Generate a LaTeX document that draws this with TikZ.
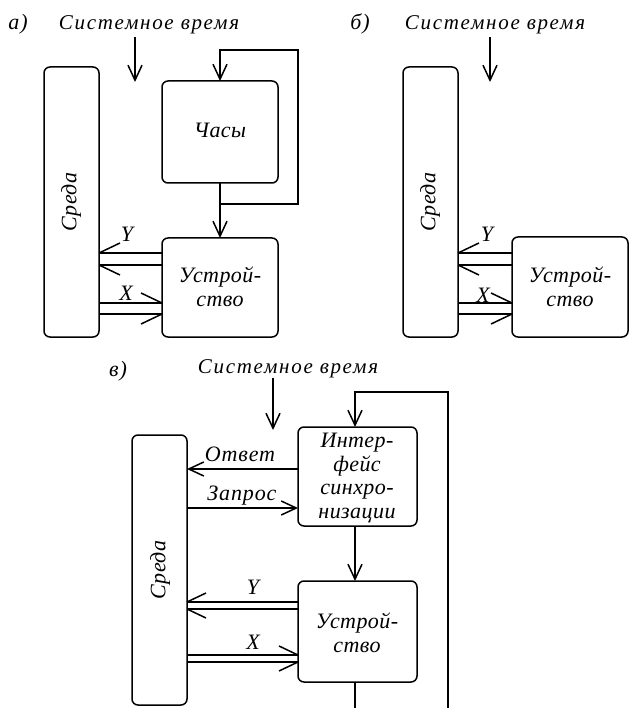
\documentclass[tikz,border=0pt]{standalone}
\usepackage{fontspec}
\setmainfont{Liberation Serif}
\usetikzlibrary{arrows.meta,calc}
\newfontfamily\titlefont[LetterSpace=8]{Liberation Serif}
\newfontfamily\boxfont[LetterSpace=2]{Liberation Serif}
\newfontfamily\lblfont[LetterSpace=4]{Liberation Serif}
\begin{document}
\begin{tikzpicture}[x=1pt,y=-1pt,
  every node/.style={inner sep=0pt, outer sep=0pt},
  blk/.style={draw, line width=1.5pt, rounded corners=6pt},
  ln/.style={line width=1.5pt},
  arr/.style={line width=1.5pt, -{Straight Barb[length=15pt,width=14pt,line width=1.5pt]}},
  ttl/.style={font=\titlefont\itshape\fontsize{21}{22}\selectfont, anchor=base},
  lbl/.style={font=\lblfont\itshape\fontsize{22}{24}\selectfont, anchor=base},
  bt/.style={font=\boxfont\itshape\fontsize{22}{23.5}\selectfont, align=center}]
\useasboundingbox (0,0) rectangle (630,708);
% ---------- a) ----------
\node[lbl] (la) at (18,30) {а)};
\node[ttl] (ta) at (149,30) {Системное время};
\coordinate (sa1) at (135,37);
\coordinate (sa2) at (135,82);
\draw[arr] (sa1) -- (sa2);
\draw[blk] (44,67) rectangle (99,337);
\node[bt, rotate=90] (srA) at (71,202) {Среда};
\draw[blk] (162,81) rectangle (278,183);
\node[bt] (clk) at (220,130) {Часы};
\draw[blk] (162,238) rectangle (278,337);
\node[bt] (devA) at (220,287) {Устрой-\\ство};
\coordinate (clkS) at (220,183);
\coordinate (clkN) at (220,81);
\coordinate (devAN) at (220,238);
\draw[arr] (clkS) -- (devAN);
\coordinate (brA) at (220,204);
\draw[arr] (brA) -- (298,204) -- (298,50) -- (220,50) -- (clkN);
% Y bus a
\coordinate (yA1) at (99,253); \coordinate (yA2) at (99,265);
\draw[ln] (162,253) -- (yA1) (162,265) -- (yA2);
\draw[ln] (yA1) -- ++(21,-10) (yA2) -- ++(21,10);
\node[lbl] (YA) at (127,241) {Y};
% X bus a
\coordinate (xA1) at (162,303); \coordinate (xA2) at (162,314);
\draw[ln] (99,303) -- (xA1) (99,314) -- (xA2);
\draw[ln] (xA1) -- ++(-21,-10) (xA2) -- ++(-21,10);
\node[lbl] (XA) at (126,300) {X};
% ---------- b) ----------
\node[lbl] (lb) at (360,30) {б)};
\node[ttl] (tb) at (495,30) {Системное время};
\draw[arr] (490,37) -- (490,82);
\draw[blk] (403,67) rectangle (458,337);
\node[bt, rotate=90] (srB) at (430,202) {Среда};
\draw[blk] (512,237) rectangle (628,337);
\node[bt] (devB) at (570,287) {Устрой-\\ство};
\coordinate (yB1) at (458,253); \coordinate (yB2) at (458,265);
\draw[ln] (512,253) -- (yB1) (512,265) -- (yB2);
\draw[ln] (yB1) -- ++(21,-10) (yB2) -- ++(21,10);
\node[lbl] (YB) at (487,241) {Y};
\coordinate (xB1) at (512,303); \coordinate (xB2) at (512,314);
\draw[ln] (458,303) -- (xB1) (458,314) -- (xB2);
\draw[ln] (xB1) -- ++(-21,-10) (xB2) -- ++(-21,10);
\node[lbl] (XB) at (483,302) {X};
% ---------- c) ----------
\node[lbl] (lc) at (118,376) {в)};
\node[ttl] (tc) at (288,373) {Системное время};
\draw[arr] (273,378) -- (273,430);
\draw[blk] (132,435) rectangle (187,705);
\node[bt, rotate=90] (srC) at (160,570) {Среда};
\draw[blk] (298,427) rectangle (417,526);
\node[bt] (ifc) at (357,478) {Интер-\\фейс\\синхро-\\низации};
\draw[blk] (298,581) rectangle (417,682);
\node[bt] (devC) at (357,633) {Устрой-\\ство};
\draw[arr] (355,526) -- (355,581);
\draw[arr] (355,682) -- (355,712) -- (448,712) -- (448,392) -- (355,392) -- (355,427);
\draw[arr] (298,469) -- (187,469);
\node[lbl] (otv) at (240,461) {Ответ};
\draw[arr] (187,508) -- (298,508);
\node[lbl] (zap) at (242,500) {Запрос};
\coordinate (yC1) at (187,602); \coordinate (yC2) at (187,609);
\draw[ln] (298,602) -- (yC1) (298,609) -- (yC2);
\draw[ln] (yC1) -- ++(19,-9) (yC2) -- ++(19,9);
\node[lbl] (YC) at (253,594) {Y};
\coordinate (xC1) at (298,655); \coordinate (xC2) at (298,662);
\draw[ln] (187,655) -- (xC1) (187,662) -- (xC2);
\draw[ln] (xC1) -- ++(-19,-9) (xC2) -- ++(-19,9);
\node[lbl] (XC) at (253,649) {X};
\end{tikzpicture}
\end{document}
